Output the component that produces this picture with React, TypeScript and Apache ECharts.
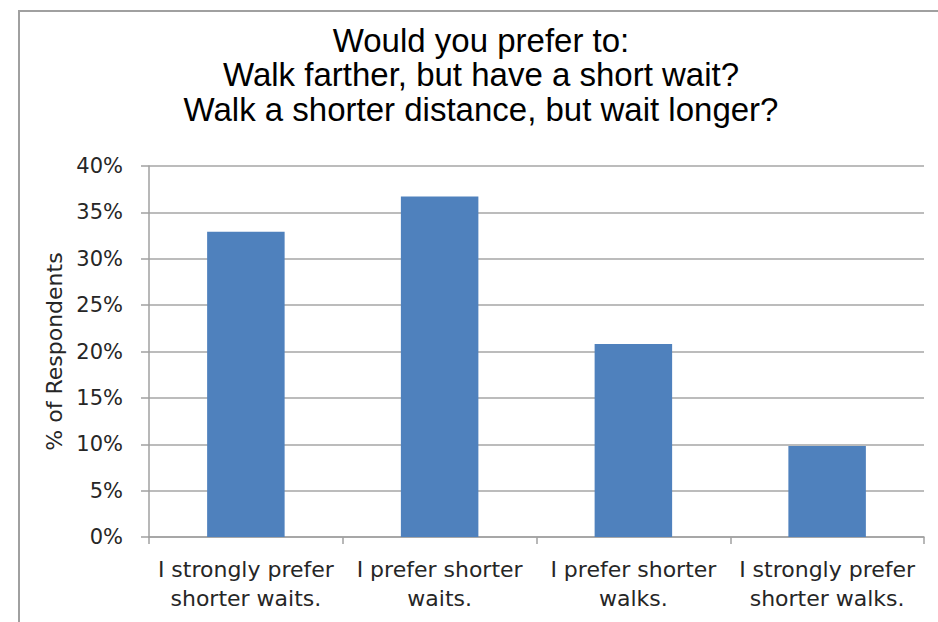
import React, { useEffect, useRef } from "react";
import * as echarts from "echarts";

const titleLines = [
  "Would you prefer to:",
  "Walk farther, but have a short wait?",
  "Walk a shorter distance, but wait longer?",
];
const categories = [
  "I strongly prefer\nshorter waits.",
  "I prefer shorter\nwaits.",
  "I prefer shorter\nwalks.",
  "I strongly prefer\nshorter walks.",
];
const values = [32.9, 36.7, 20.8, 9.8];
const yAxisName = "% of Respondents";
const yMin = 0;
const yMax = 40;
const yInterval = 5;

export default function App() {
  const ref = useRef<HTMLDivElement>(null);
  useEffect(() => {
    if (!ref.current) return;
    const chart = echarts.init(ref.current, null, { renderer: "svg" });
    chart.setOption({
      animation: false,
      backgroundColor: "#ffffff",
      graphic: [
        {
          type: "rect",
          shape: { x: 19, y: 11, width: 1000, height: 800 },
          style: { fill: "none", stroke: "#a0a0a0", lineWidth: 2 },
          silent: true,
        },
        {
          type: "text",
          x: 481,
          y: 23,
          style: {
            text: titleLines.join("\n"),
            fontFamily: "Liberation Sans, Arial, sans-serif",
            fontSize: 33,
            lineHeight: 34.5,
            fill: "#000000",
            textAlign: "center",
            textVerticalAlign: "top",
          },
        },
      ],
      grid: { left: 149, right: 14, top: 166, bottom: 85, containLabel: false },
      xAxis: {
        type: "category",
        data: categories,
        axisLine: { show: true, lineStyle: { color: "#a0a0a0", width: 1.5 } },
        axisTick: { show: true, alignWithLabel: false, length: 7, lineStyle: { color: "#a0a0a0", width: 1.5 } },
        axisLabel: {
          interval: 0,
          margin: 18,
          fontFamily: "DejaVu Sans, sans-serif",
          fontSize: 22,
          lineHeight: 29,
          color: "#262626",
        },
      },
      yAxis: {
        type: "value",
        min: yMin,
        max: yMax,
        interval: yInterval,
        name: yAxisName,
        nameLocation: "middle",
        nameRotate: 90,
        nameGap: 80,
        nameTextStyle: {
          fontFamily: "DejaVu Sans, sans-serif",
          fontSize: 22,
          color: "#262626",
        },
        axisLine: { show: true, lineStyle: { color: "#a0a0a0", width: 1.5 } },
        axisTick: { show: true, inside: false, length: 8, lineStyle: { color: "#a0a0a0", width: 1.5 } },
        axisLabel: {
          formatter: "{value}%",
          margin: 26,
          fontFamily: "DejaVu Sans, sans-serif",
          fontSize: 21,
          color: "#262626",
        },
        splitLine: { show: true, lineStyle: { color: "#a6a6a6", width: 1.5 } },
      },
      series: [
        {
          type: "bar",
          data: values,
          barCategoryGap: "60%",
          itemStyle: { color: "#4F81BD" },
        },
      ],
    });
    return () => chart.dispose();
  }, []);
  return (
    <div
      ref={ref}
      style={{ position: "fixed", left: 0, top: 0, width: 938, height: 622, background: "#fff" }}
    />
  );
}
